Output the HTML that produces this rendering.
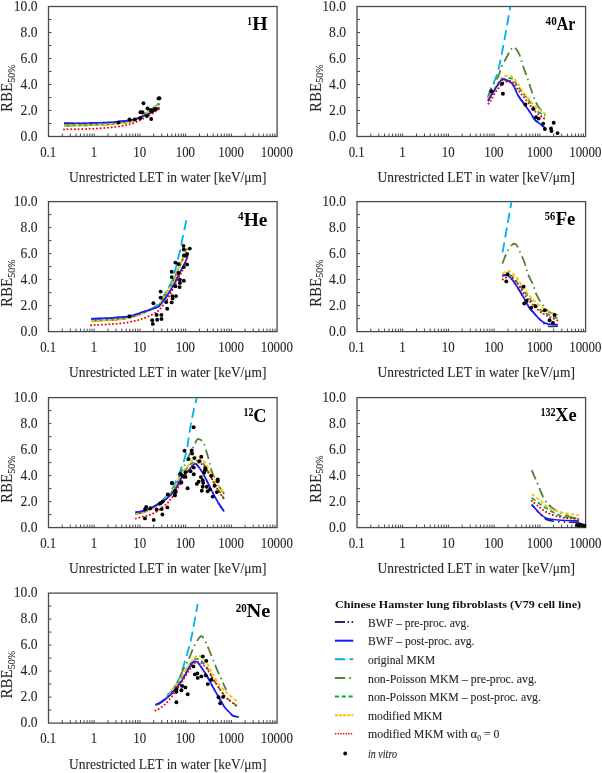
<!DOCTYPE html>
<html><head><meta charset="utf-8"><style>
html,body{margin:0;padding:0;background:#fff;}
svg{display:block;}
.tx{will-change:transform;}
text{font-family:"Liberation Serif", serif;fill:#262626;stroke:#262626;stroke-width:0.1px;}
.tl{font-size:14px;}
.at{font-size:14.6px;}
.yt{font-size:15.7px;}
.sub{font-size:10.6px;}
.el{font-size:17.8px;font-weight:bold;fill:#000;stroke:none;}
.es{font-size:12px;fill:#000;stroke:none;}
.lg{font-size:11.8px;}
.lt{font-size:10.8px;font-weight:bold;fill:#111;stroke:none;}
</style></head><body>
<svg style="will-change:transform" width="602" height="773" viewBox="0 0 602 773">
<rect x="48.50" y="6.50" width="228.60" height="130.00" fill="none" stroke="#4a4a4a" stroke-width="1.3"/>
<path d="M48.50 123.50h3 M48.50 110.50h3 M48.50 97.50h3 M48.50 84.50h3 M48.50 71.50h3 M48.50 58.50h3 M48.50 45.50h3 M48.50 32.50h3 M48.50 19.50h3 M62.26 136.50v-3 M70.31 136.50v-3 M76.03 136.50v-3 M80.46 136.50v-3 M84.08 136.50v-3 M87.14 136.50v-3 M89.79 136.50v-3 M92.13 136.50v-3 M94.22 136.50v-3 M107.98 136.50v-3 M116.03 136.50v-3 M121.75 136.50v-3 M126.18 136.50v-3 M129.80 136.50v-3 M132.86 136.50v-3 M135.51 136.50v-3 M137.85 136.50v-3 M139.94 136.50v-3 M153.70 136.50v-3 M161.75 136.50v-3 M167.47 136.50v-3 M171.90 136.50v-3 M175.52 136.50v-3 M178.58 136.50v-3 M181.23 136.50v-3 M183.57 136.50v-3 M185.66 136.50v-3 M199.42 136.50v-3 M207.47 136.50v-3 M213.19 136.50v-3 M217.62 136.50v-3 M221.24 136.50v-3 M224.30 136.50v-3 M226.95 136.50v-3 M229.29 136.50v-3 M231.38 136.50v-3 M245.14 136.50v-3 M253.19 136.50v-3 M258.91 136.50v-3 M263.34 136.50v-3 M266.96 136.50v-3 M270.02 136.50v-3 M272.67 136.50v-3 M275.01 136.50v-3" stroke="#4a4a4a" stroke-width="1" fill="none"/>
<text x="37.60" y="140.60" text-anchor="end" class="tl" textLength="16.98" lengthAdjust="spacingAndGlyphs">0.0</text>
<text x="37.60" y="114.60" text-anchor="end" class="tl" textLength="16.98" lengthAdjust="spacingAndGlyphs">2.0</text>
<text x="37.60" y="88.60" text-anchor="end" class="tl" textLength="16.98" lengthAdjust="spacingAndGlyphs">4.0</text>
<text x="37.60" y="62.60" text-anchor="end" class="tl" textLength="16.98" lengthAdjust="spacingAndGlyphs">6.0</text>
<text x="37.60" y="36.60" text-anchor="end" class="tl" textLength="16.98" lengthAdjust="spacingAndGlyphs">8.0</text>
<text x="37.60" y="10.60" text-anchor="end" class="tl" textLength="23.77" lengthAdjust="spacingAndGlyphs">10.0</text>
<text x="48.20" y="156.70" text-anchor="middle" class="tl" textLength="16.10" lengthAdjust="spacingAndGlyphs">0.1</text>
<text x="93.92" y="156.70" text-anchor="middle" class="tl" textLength="6.44" lengthAdjust="spacingAndGlyphs">1</text>
<text x="139.64" y="156.70" text-anchor="middle" class="tl" textLength="12.88" lengthAdjust="spacingAndGlyphs">10</text>
<text x="185.36" y="156.70" text-anchor="middle" class="tl" textLength="19.32" lengthAdjust="spacingAndGlyphs">100</text>
<text x="231.08" y="156.70" text-anchor="middle" class="tl" textLength="25.76" lengthAdjust="spacingAndGlyphs">1000</text>
<text x="276.80" y="156.70" text-anchor="middle" class="tl" textLength="32.20" lengthAdjust="spacingAndGlyphs">10000</text>
<text x="69.00" y="182.30" class="at" textLength="197.5" lengthAdjust="spacingAndGlyphs">Unrestricted LET in water [keV/μm]</text>
<text transform="translate(12.30,111.90) rotate(-90)" class="yt"><tspan textLength="29.2" lengthAdjust="spacingAndGlyphs">RBE</tspan><tspan dy="2.2" class="sub" textLength="18.3" lengthAdjust="spacingAndGlyphs">50%</tspan></text>
<rect x="357.00" y="6.50" width="228.60" height="130.00" fill="none" stroke="#4a4a4a" stroke-width="1.3"/>
<path d="M357.00 123.50h3 M357.00 110.50h3 M357.00 97.50h3 M357.00 84.50h3 M357.00 71.50h3 M357.00 58.50h3 M357.00 45.50h3 M357.00 32.50h3 M357.00 19.50h3 M370.76 136.50v-3 M378.81 136.50v-3 M384.53 136.50v-3 M388.96 136.50v-3 M392.58 136.50v-3 M395.64 136.50v-3 M398.29 136.50v-3 M400.63 136.50v-3 M402.72 136.50v-3 M416.48 136.50v-3 M424.53 136.50v-3 M430.25 136.50v-3 M434.68 136.50v-3 M438.30 136.50v-3 M441.36 136.50v-3 M444.01 136.50v-3 M446.35 136.50v-3 M448.44 136.50v-3 M462.20 136.50v-3 M470.25 136.50v-3 M475.97 136.50v-3 M480.40 136.50v-3 M484.02 136.50v-3 M487.08 136.50v-3 M489.73 136.50v-3 M492.07 136.50v-3 M494.16 136.50v-3 M507.92 136.50v-3 M515.97 136.50v-3 M521.69 136.50v-3 M526.12 136.50v-3 M529.74 136.50v-3 M532.80 136.50v-3 M535.45 136.50v-3 M537.79 136.50v-3 M539.88 136.50v-3 M553.64 136.50v-3 M561.69 136.50v-3 M567.41 136.50v-3 M571.84 136.50v-3 M575.46 136.50v-3 M578.52 136.50v-3 M581.17 136.50v-3 M583.51 136.50v-3" stroke="#4a4a4a" stroke-width="1" fill="none"/>
<text x="346.10" y="140.60" text-anchor="end" class="tl" textLength="16.98" lengthAdjust="spacingAndGlyphs">0.0</text>
<text x="346.10" y="114.60" text-anchor="end" class="tl" textLength="16.98" lengthAdjust="spacingAndGlyphs">2.0</text>
<text x="346.10" y="88.60" text-anchor="end" class="tl" textLength="16.98" lengthAdjust="spacingAndGlyphs">4.0</text>
<text x="346.10" y="62.60" text-anchor="end" class="tl" textLength="16.98" lengthAdjust="spacingAndGlyphs">6.0</text>
<text x="346.10" y="36.60" text-anchor="end" class="tl" textLength="16.98" lengthAdjust="spacingAndGlyphs">8.0</text>
<text x="346.10" y="10.60" text-anchor="end" class="tl" textLength="23.77" lengthAdjust="spacingAndGlyphs">10.0</text>
<text x="356.70" y="156.70" text-anchor="middle" class="tl" textLength="16.10" lengthAdjust="spacingAndGlyphs">0.1</text>
<text x="402.42" y="156.70" text-anchor="middle" class="tl" textLength="6.44" lengthAdjust="spacingAndGlyphs">1</text>
<text x="448.14" y="156.70" text-anchor="middle" class="tl" textLength="12.88" lengthAdjust="spacingAndGlyphs">10</text>
<text x="493.86" y="156.70" text-anchor="middle" class="tl" textLength="19.32" lengthAdjust="spacingAndGlyphs">100</text>
<text x="539.58" y="156.70" text-anchor="middle" class="tl" textLength="25.76" lengthAdjust="spacingAndGlyphs">1000</text>
<text x="585.30" y="156.70" text-anchor="middle" class="tl" textLength="32.20" lengthAdjust="spacingAndGlyphs">10000</text>
<text x="377.50" y="182.30" class="at" textLength="197.5" lengthAdjust="spacingAndGlyphs">Unrestricted LET in water [keV/μm]</text>
<text transform="translate(320.80,111.90) rotate(-90)" class="yt"><tspan textLength="29.2" lengthAdjust="spacingAndGlyphs">RBE</tspan><tspan dy="2.2" class="sub" textLength="18.3" lengthAdjust="spacingAndGlyphs">50%</tspan></text>
<rect x="48.50" y="201.60" width="228.60" height="130.00" fill="none" stroke="#4a4a4a" stroke-width="1.3"/>
<path d="M48.50 318.60h3 M48.50 305.60h3 M48.50 292.60h3 M48.50 279.60h3 M48.50 266.60h3 M48.50 253.60h3 M48.50 240.60h3 M48.50 227.60h3 M48.50 214.60h3 M62.26 331.60v-3 M70.31 331.60v-3 M76.03 331.60v-3 M80.46 331.60v-3 M84.08 331.60v-3 M87.14 331.60v-3 M89.79 331.60v-3 M92.13 331.60v-3 M94.22 331.60v-3 M107.98 331.60v-3 M116.03 331.60v-3 M121.75 331.60v-3 M126.18 331.60v-3 M129.80 331.60v-3 M132.86 331.60v-3 M135.51 331.60v-3 M137.85 331.60v-3 M139.94 331.60v-3 M153.70 331.60v-3 M161.75 331.60v-3 M167.47 331.60v-3 M171.90 331.60v-3 M175.52 331.60v-3 M178.58 331.60v-3 M181.23 331.60v-3 M183.57 331.60v-3 M185.66 331.60v-3 M199.42 331.60v-3 M207.47 331.60v-3 M213.19 331.60v-3 M217.62 331.60v-3 M221.24 331.60v-3 M224.30 331.60v-3 M226.95 331.60v-3 M229.29 331.60v-3 M231.38 331.60v-3 M245.14 331.60v-3 M253.19 331.60v-3 M258.91 331.60v-3 M263.34 331.60v-3 M266.96 331.60v-3 M270.02 331.60v-3 M272.67 331.60v-3 M275.01 331.60v-3" stroke="#4a4a4a" stroke-width="1" fill="none"/>
<text x="37.60" y="335.70" text-anchor="end" class="tl" textLength="16.98" lengthAdjust="spacingAndGlyphs">0.0</text>
<text x="37.60" y="309.70" text-anchor="end" class="tl" textLength="16.98" lengthAdjust="spacingAndGlyphs">2.0</text>
<text x="37.60" y="283.70" text-anchor="end" class="tl" textLength="16.98" lengthAdjust="spacingAndGlyphs">4.0</text>
<text x="37.60" y="257.70" text-anchor="end" class="tl" textLength="16.98" lengthAdjust="spacingAndGlyphs">6.0</text>
<text x="37.60" y="231.70" text-anchor="end" class="tl" textLength="16.98" lengthAdjust="spacingAndGlyphs">8.0</text>
<text x="37.60" y="205.70" text-anchor="end" class="tl" textLength="23.77" lengthAdjust="spacingAndGlyphs">10.0</text>
<text x="48.20" y="351.80" text-anchor="middle" class="tl" textLength="16.10" lengthAdjust="spacingAndGlyphs">0.1</text>
<text x="93.92" y="351.80" text-anchor="middle" class="tl" textLength="6.44" lengthAdjust="spacingAndGlyphs">1</text>
<text x="139.64" y="351.80" text-anchor="middle" class="tl" textLength="12.88" lengthAdjust="spacingAndGlyphs">10</text>
<text x="185.36" y="351.80" text-anchor="middle" class="tl" textLength="19.32" lengthAdjust="spacingAndGlyphs">100</text>
<text x="231.08" y="351.80" text-anchor="middle" class="tl" textLength="25.76" lengthAdjust="spacingAndGlyphs">1000</text>
<text x="276.80" y="351.80" text-anchor="middle" class="tl" textLength="32.20" lengthAdjust="spacingAndGlyphs">10000</text>
<text x="69.00" y="377.40" class="at" textLength="197.5" lengthAdjust="spacingAndGlyphs">Unrestricted LET in water [keV/μm]</text>
<text transform="translate(12.30,307.00) rotate(-90)" class="yt"><tspan textLength="29.2" lengthAdjust="spacingAndGlyphs">RBE</tspan><tspan dy="2.2" class="sub" textLength="18.3" lengthAdjust="spacingAndGlyphs">50%</tspan></text>
<rect x="357.00" y="201.60" width="228.60" height="130.00" fill="none" stroke="#4a4a4a" stroke-width="1.3"/>
<path d="M357.00 318.60h3 M357.00 305.60h3 M357.00 292.60h3 M357.00 279.60h3 M357.00 266.60h3 M357.00 253.60h3 M357.00 240.60h3 M357.00 227.60h3 M357.00 214.60h3 M370.76 331.60v-3 M378.81 331.60v-3 M384.53 331.60v-3 M388.96 331.60v-3 M392.58 331.60v-3 M395.64 331.60v-3 M398.29 331.60v-3 M400.63 331.60v-3 M402.72 331.60v-3 M416.48 331.60v-3 M424.53 331.60v-3 M430.25 331.60v-3 M434.68 331.60v-3 M438.30 331.60v-3 M441.36 331.60v-3 M444.01 331.60v-3 M446.35 331.60v-3 M448.44 331.60v-3 M462.20 331.60v-3 M470.25 331.60v-3 M475.97 331.60v-3 M480.40 331.60v-3 M484.02 331.60v-3 M487.08 331.60v-3 M489.73 331.60v-3 M492.07 331.60v-3 M494.16 331.60v-3 M507.92 331.60v-3 M515.97 331.60v-3 M521.69 331.60v-3 M526.12 331.60v-3 M529.74 331.60v-3 M532.80 331.60v-3 M535.45 331.60v-3 M537.79 331.60v-3 M539.88 331.60v-3 M553.64 331.60v-3 M561.69 331.60v-3 M567.41 331.60v-3 M571.84 331.60v-3 M575.46 331.60v-3 M578.52 331.60v-3 M581.17 331.60v-3 M583.51 331.60v-3" stroke="#4a4a4a" stroke-width="1" fill="none"/>
<text x="346.10" y="335.70" text-anchor="end" class="tl" textLength="16.98" lengthAdjust="spacingAndGlyphs">0.0</text>
<text x="346.10" y="309.70" text-anchor="end" class="tl" textLength="16.98" lengthAdjust="spacingAndGlyphs">2.0</text>
<text x="346.10" y="283.70" text-anchor="end" class="tl" textLength="16.98" lengthAdjust="spacingAndGlyphs">4.0</text>
<text x="346.10" y="257.70" text-anchor="end" class="tl" textLength="16.98" lengthAdjust="spacingAndGlyphs">6.0</text>
<text x="346.10" y="231.70" text-anchor="end" class="tl" textLength="16.98" lengthAdjust="spacingAndGlyphs">8.0</text>
<text x="346.10" y="205.70" text-anchor="end" class="tl" textLength="23.77" lengthAdjust="spacingAndGlyphs">10.0</text>
<text x="356.70" y="351.80" text-anchor="middle" class="tl" textLength="16.10" lengthAdjust="spacingAndGlyphs">0.1</text>
<text x="402.42" y="351.80" text-anchor="middle" class="tl" textLength="6.44" lengthAdjust="spacingAndGlyphs">1</text>
<text x="448.14" y="351.80" text-anchor="middle" class="tl" textLength="12.88" lengthAdjust="spacingAndGlyphs">10</text>
<text x="493.86" y="351.80" text-anchor="middle" class="tl" textLength="19.32" lengthAdjust="spacingAndGlyphs">100</text>
<text x="539.58" y="351.80" text-anchor="middle" class="tl" textLength="25.76" lengthAdjust="spacingAndGlyphs">1000</text>
<text x="585.30" y="351.80" text-anchor="middle" class="tl" textLength="32.20" lengthAdjust="spacingAndGlyphs">10000</text>
<text x="377.50" y="377.40" class="at" textLength="197.5" lengthAdjust="spacingAndGlyphs">Unrestricted LET in water [keV/μm]</text>
<text transform="translate(320.80,307.00) rotate(-90)" class="yt"><tspan textLength="29.2" lengthAdjust="spacingAndGlyphs">RBE</tspan><tspan dy="2.2" class="sub" textLength="18.3" lengthAdjust="spacingAndGlyphs">50%</tspan></text>
<rect x="48.50" y="397.60" width="228.60" height="130.00" fill="none" stroke="#4a4a4a" stroke-width="1.3"/>
<path d="M48.50 514.60h3 M48.50 501.60h3 M48.50 488.60h3 M48.50 475.60h3 M48.50 462.60h3 M48.50 449.60h3 M48.50 436.60h3 M48.50 423.60h3 M48.50 410.60h3 M62.26 527.60v-3 M70.31 527.60v-3 M76.03 527.60v-3 M80.46 527.60v-3 M84.08 527.60v-3 M87.14 527.60v-3 M89.79 527.60v-3 M92.13 527.60v-3 M94.22 527.60v-3 M107.98 527.60v-3 M116.03 527.60v-3 M121.75 527.60v-3 M126.18 527.60v-3 M129.80 527.60v-3 M132.86 527.60v-3 M135.51 527.60v-3 M137.85 527.60v-3 M139.94 527.60v-3 M153.70 527.60v-3 M161.75 527.60v-3 M167.47 527.60v-3 M171.90 527.60v-3 M175.52 527.60v-3 M178.58 527.60v-3 M181.23 527.60v-3 M183.57 527.60v-3 M185.66 527.60v-3 M199.42 527.60v-3 M207.47 527.60v-3 M213.19 527.60v-3 M217.62 527.60v-3 M221.24 527.60v-3 M224.30 527.60v-3 M226.95 527.60v-3 M229.29 527.60v-3 M231.38 527.60v-3 M245.14 527.60v-3 M253.19 527.60v-3 M258.91 527.60v-3 M263.34 527.60v-3 M266.96 527.60v-3 M270.02 527.60v-3 M272.67 527.60v-3 M275.01 527.60v-3" stroke="#4a4a4a" stroke-width="1" fill="none"/>
<text x="37.60" y="531.70" text-anchor="end" class="tl" textLength="16.98" lengthAdjust="spacingAndGlyphs">0.0</text>
<text x="37.60" y="505.70" text-anchor="end" class="tl" textLength="16.98" lengthAdjust="spacingAndGlyphs">2.0</text>
<text x="37.60" y="479.70" text-anchor="end" class="tl" textLength="16.98" lengthAdjust="spacingAndGlyphs">4.0</text>
<text x="37.60" y="453.70" text-anchor="end" class="tl" textLength="16.98" lengthAdjust="spacingAndGlyphs">6.0</text>
<text x="37.60" y="427.70" text-anchor="end" class="tl" textLength="16.98" lengthAdjust="spacingAndGlyphs">8.0</text>
<text x="37.60" y="401.70" text-anchor="end" class="tl" textLength="23.77" lengthAdjust="spacingAndGlyphs">10.0</text>
<text x="48.20" y="547.80" text-anchor="middle" class="tl" textLength="16.10" lengthAdjust="spacingAndGlyphs">0.1</text>
<text x="93.92" y="547.80" text-anchor="middle" class="tl" textLength="6.44" lengthAdjust="spacingAndGlyphs">1</text>
<text x="139.64" y="547.80" text-anchor="middle" class="tl" textLength="12.88" lengthAdjust="spacingAndGlyphs">10</text>
<text x="185.36" y="547.80" text-anchor="middle" class="tl" textLength="19.32" lengthAdjust="spacingAndGlyphs">100</text>
<text x="231.08" y="547.80" text-anchor="middle" class="tl" textLength="25.76" lengthAdjust="spacingAndGlyphs">1000</text>
<text x="276.80" y="547.80" text-anchor="middle" class="tl" textLength="32.20" lengthAdjust="spacingAndGlyphs">10000</text>
<text x="69.00" y="573.40" class="at" textLength="197.5" lengthAdjust="spacingAndGlyphs">Unrestricted LET in water [keV/μm]</text>
<text transform="translate(12.30,503.00) rotate(-90)" class="yt"><tspan textLength="29.2" lengthAdjust="spacingAndGlyphs">RBE</tspan><tspan dy="2.2" class="sub" textLength="18.3" lengthAdjust="spacingAndGlyphs">50%</tspan></text>
<rect x="357.00" y="397.60" width="228.60" height="130.00" fill="none" stroke="#4a4a4a" stroke-width="1.3"/>
<path d="M357.00 514.60h3 M357.00 501.60h3 M357.00 488.60h3 M357.00 475.60h3 M357.00 462.60h3 M357.00 449.60h3 M357.00 436.60h3 M357.00 423.60h3 M357.00 410.60h3 M370.76 527.60v-3 M378.81 527.60v-3 M384.53 527.60v-3 M388.96 527.60v-3 M392.58 527.60v-3 M395.64 527.60v-3 M398.29 527.60v-3 M400.63 527.60v-3 M402.72 527.60v-3 M416.48 527.60v-3 M424.53 527.60v-3 M430.25 527.60v-3 M434.68 527.60v-3 M438.30 527.60v-3 M441.36 527.60v-3 M444.01 527.60v-3 M446.35 527.60v-3 M448.44 527.60v-3 M462.20 527.60v-3 M470.25 527.60v-3 M475.97 527.60v-3 M480.40 527.60v-3 M484.02 527.60v-3 M487.08 527.60v-3 M489.73 527.60v-3 M492.07 527.60v-3 M494.16 527.60v-3 M507.92 527.60v-3 M515.97 527.60v-3 M521.69 527.60v-3 M526.12 527.60v-3 M529.74 527.60v-3 M532.80 527.60v-3 M535.45 527.60v-3 M537.79 527.60v-3 M539.88 527.60v-3 M553.64 527.60v-3 M561.69 527.60v-3 M567.41 527.60v-3 M571.84 527.60v-3 M575.46 527.60v-3 M578.52 527.60v-3 M581.17 527.60v-3 M583.51 527.60v-3" stroke="#4a4a4a" stroke-width="1" fill="none"/>
<text x="346.10" y="531.70" text-anchor="end" class="tl" textLength="16.98" lengthAdjust="spacingAndGlyphs">0.0</text>
<text x="346.10" y="505.70" text-anchor="end" class="tl" textLength="16.98" lengthAdjust="spacingAndGlyphs">2.0</text>
<text x="346.10" y="479.70" text-anchor="end" class="tl" textLength="16.98" lengthAdjust="spacingAndGlyphs">4.0</text>
<text x="346.10" y="453.70" text-anchor="end" class="tl" textLength="16.98" lengthAdjust="spacingAndGlyphs">6.0</text>
<text x="346.10" y="427.70" text-anchor="end" class="tl" textLength="16.98" lengthAdjust="spacingAndGlyphs">8.0</text>
<text x="346.10" y="401.70" text-anchor="end" class="tl" textLength="23.77" lengthAdjust="spacingAndGlyphs">10.0</text>
<text x="356.70" y="547.80" text-anchor="middle" class="tl" textLength="16.10" lengthAdjust="spacingAndGlyphs">0.1</text>
<text x="402.42" y="547.80" text-anchor="middle" class="tl" textLength="6.44" lengthAdjust="spacingAndGlyphs">1</text>
<text x="448.14" y="547.80" text-anchor="middle" class="tl" textLength="12.88" lengthAdjust="spacingAndGlyphs">10</text>
<text x="493.86" y="547.80" text-anchor="middle" class="tl" textLength="19.32" lengthAdjust="spacingAndGlyphs">100</text>
<text x="539.58" y="547.80" text-anchor="middle" class="tl" textLength="25.76" lengthAdjust="spacingAndGlyphs">1000</text>
<text x="585.30" y="547.80" text-anchor="middle" class="tl" textLength="32.20" lengthAdjust="spacingAndGlyphs">10000</text>
<text x="377.50" y="573.40" class="at" textLength="197.5" lengthAdjust="spacingAndGlyphs">Unrestricted LET in water [keV/μm]</text>
<text transform="translate(320.80,503.00) rotate(-90)" class="yt"><tspan textLength="29.2" lengthAdjust="spacingAndGlyphs">RBE</tspan><tspan dy="2.2" class="sub" textLength="18.3" lengthAdjust="spacingAndGlyphs">50%</tspan></text>
<rect x="48.50" y="593.10" width="228.60" height="130.00" fill="none" stroke="#4a4a4a" stroke-width="1.3"/>
<path d="M48.50 710.10h3 M48.50 697.10h3 M48.50 684.10h3 M48.50 671.10h3 M48.50 658.10h3 M48.50 645.10h3 M48.50 632.10h3 M48.50 619.10h3 M48.50 606.10h3 M62.26 723.10v-3 M70.31 723.10v-3 M76.03 723.10v-3 M80.46 723.10v-3 M84.08 723.10v-3 M87.14 723.10v-3 M89.79 723.10v-3 M92.13 723.10v-3 M94.22 723.10v-3 M107.98 723.10v-3 M116.03 723.10v-3 M121.75 723.10v-3 M126.18 723.10v-3 M129.80 723.10v-3 M132.86 723.10v-3 M135.51 723.10v-3 M137.85 723.10v-3 M139.94 723.10v-3 M153.70 723.10v-3 M161.75 723.10v-3 M167.47 723.10v-3 M171.90 723.10v-3 M175.52 723.10v-3 M178.58 723.10v-3 M181.23 723.10v-3 M183.57 723.10v-3 M185.66 723.10v-3 M199.42 723.10v-3 M207.47 723.10v-3 M213.19 723.10v-3 M217.62 723.10v-3 M221.24 723.10v-3 M224.30 723.10v-3 M226.95 723.10v-3 M229.29 723.10v-3 M231.38 723.10v-3 M245.14 723.10v-3 M253.19 723.10v-3 M258.91 723.10v-3 M263.34 723.10v-3 M266.96 723.10v-3 M270.02 723.10v-3 M272.67 723.10v-3 M275.01 723.10v-3" stroke="#4a4a4a" stroke-width="1" fill="none"/>
<text x="37.60" y="727.20" text-anchor="end" class="tl" textLength="16.98" lengthAdjust="spacingAndGlyphs">0.0</text>
<text x="37.60" y="701.20" text-anchor="end" class="tl" textLength="16.98" lengthAdjust="spacingAndGlyphs">2.0</text>
<text x="37.60" y="675.20" text-anchor="end" class="tl" textLength="16.98" lengthAdjust="spacingAndGlyphs">4.0</text>
<text x="37.60" y="649.20" text-anchor="end" class="tl" textLength="16.98" lengthAdjust="spacingAndGlyphs">6.0</text>
<text x="37.60" y="623.20" text-anchor="end" class="tl" textLength="16.98" lengthAdjust="spacingAndGlyphs">8.0</text>
<text x="37.60" y="597.20" text-anchor="end" class="tl" textLength="23.77" lengthAdjust="spacingAndGlyphs">10.0</text>
<text x="48.20" y="743.30" text-anchor="middle" class="tl" textLength="16.10" lengthAdjust="spacingAndGlyphs">0.1</text>
<text x="93.92" y="743.30" text-anchor="middle" class="tl" textLength="6.44" lengthAdjust="spacingAndGlyphs">1</text>
<text x="139.64" y="743.30" text-anchor="middle" class="tl" textLength="12.88" lengthAdjust="spacingAndGlyphs">10</text>
<text x="185.36" y="743.30" text-anchor="middle" class="tl" textLength="19.32" lengthAdjust="spacingAndGlyphs">100</text>
<text x="231.08" y="743.30" text-anchor="middle" class="tl" textLength="25.76" lengthAdjust="spacingAndGlyphs">1000</text>
<text x="276.80" y="743.30" text-anchor="middle" class="tl" textLength="32.20" lengthAdjust="spacingAndGlyphs">10000</text>
<text x="69.00" y="768.90" class="at" textLength="197.5" lengthAdjust="spacingAndGlyphs">Unrestricted LET in water [keV/μm]</text>
<text transform="translate(12.30,698.50) rotate(-90)" class="yt"><tspan textLength="29.2" lengthAdjust="spacingAndGlyphs">RBE</tspan><tspan dy="2.2" class="sub" textLength="18.3" lengthAdjust="spacingAndGlyphs">50%</tspan></text>
<defs>
<clipPath id="cpH"><rect x="48.50" y="6.50" width="228.60" height="130.00"/></clipPath>
<clipPath id="cpAr"><rect x="357.00" y="6.50" width="228.60" height="130.00"/></clipPath>
<clipPath id="cpHe"><rect x="48.50" y="201.60" width="228.60" height="130.00"/></clipPath>
<clipPath id="cpFe"><rect x="357.00" y="201.60" width="228.60" height="130.00"/></clipPath>
<clipPath id="cpC"><rect x="48.50" y="397.60" width="228.60" height="130.00"/></clipPath>
<clipPath id="cpXe"><rect x="357.00" y="397.60" width="228.60" height="130.00"/></clipPath>
<clipPath id="cpNe"><rect x="48.50" y="593.10" width="228.60" height="130.00"/></clipPath>
</defs>
<g clip-path="url(#cpH)" fill="none">
<path d="M64.00 123.30C68.33 123.25 81.53 123.22 90.00 123.00C98.47 122.78 107.63 122.55 114.80 122.00C121.97 121.45 127.80 120.87 133.00 119.70C138.20 118.53 142.67 116.37 146.00 115.00C149.33 113.63 150.73 112.77 153.00 111.50C155.27 110.23 158.50 108.08 159.60 107.40" stroke="#1f2d6e" stroke-width="1.6" stroke-dasharray="10 4 1.5 4 1.5 4"/>
<path d="M64.00 125.50C68.33 125.42 81.53 125.33 90.00 125.00C98.47 124.67 107.63 124.20 114.80 123.50C121.97 122.80 127.80 122.50 133.00 120.80C138.20 119.10 142.67 115.38 146.00 113.30C149.33 111.22 150.73 110.05 153.00 108.30C155.27 106.55 158.50 103.72 159.60 102.80" stroke="#00b0f0" stroke-width="1.8" stroke-dasharray="10 5"/>
<path d="M64.00 125.60C68.33 125.52 81.53 125.43 90.00 125.10C98.47 124.77 107.63 124.30 114.80 123.60C121.97 122.90 127.80 122.57 133.00 120.90C138.20 119.23 142.67 115.65 146.00 113.60C149.33 111.55 150.73 110.28 153.00 108.60C155.27 106.92 158.50 104.35 159.60 103.50" stroke="#548235" stroke-width="1.8" stroke-dasharray="10 4 1.5 4"/>
<path d="M64.00 125.40C68.33 125.32 81.53 125.23 90.00 124.90C98.47 124.57 107.63 124.10 114.80 123.40C121.97 122.70 127.80 122.30 133.00 120.70C138.20 119.10 142.67 115.75 146.00 113.80C149.33 111.85 150.73 110.63 153.00 109.00C155.27 107.37 158.50 104.83 159.60 104.00" stroke="#00b050" stroke-width="1.8" stroke-dasharray="4.6 3"/>
<path d="M64.00 125.70C68.33 125.62 81.53 125.53 90.00 125.20C98.47 124.87 107.63 124.40 114.80 123.70C121.97 123.00 127.80 122.70 133.00 121.00C138.20 119.30 142.67 115.58 146.00 113.50C149.33 111.42 150.73 110.22 153.00 108.50C155.27 106.78 158.50 104.08 159.60 103.20" stroke="#ffc000" stroke-width="1.8" stroke-dasharray="3.6 2"/>
<path d="M64.00 123.30C68.33 123.25 81.53 123.22 90.00 123.00C98.47 122.78 107.63 122.55 114.80 122.00C121.97 121.45 127.80 120.87 133.00 119.70C138.20 118.53 142.67 116.37 146.00 115.00C149.33 113.63 150.73 112.77 153.00 111.50C155.27 110.23 158.50 108.08 159.60 107.40" stroke="#1a1aff" stroke-width="1.7"/>
<path d="M64.00 129.40C68.33 129.30 81.53 129.20 90.00 128.80C98.47 128.40 107.63 127.92 114.80 127.00C121.97 126.08 127.80 124.97 133.00 123.30C138.20 121.63 142.67 118.72 146.00 117.00C149.33 115.28 150.73 114.38 153.00 113.00C155.27 111.62 158.50 109.42 159.60 108.70" stroke="#ff0000" stroke-width="2" stroke-dasharray="0.01 3.65" stroke-linecap="round"/>
</g>
<g fill="#000">
<circle cx="118.50" cy="122.50" r="1.95"/>
<circle cx="129.50" cy="119.50" r="1.95"/>
<circle cx="134.80" cy="119.50" r="1.95"/>
<circle cx="140.30" cy="118.20" r="1.95"/>
<circle cx="143.50" cy="103.30" r="1.95"/>
<circle cx="140.50" cy="112.30" r="1.95"/>
<circle cx="142.50" cy="112.30" r="1.95"/>
<circle cx="147.50" cy="108.50" r="1.95"/>
<circle cx="151.20" cy="119.00" r="1.95"/>
<circle cx="147.00" cy="116.00" r="1.95"/>
<circle cx="150.50" cy="110.00" r="1.95"/>
<circle cx="152.00" cy="111.50" r="1.95"/>
<circle cx="154.00" cy="109.50" r="1.95"/>
<circle cx="156.00" cy="109.00" r="1.95"/>
<circle cx="159.50" cy="98.30" r="1.95"/>
<circle cx="158.50" cy="98.50" r="1.95"/>
</g>
<g clip-path="url(#cpAr)" fill="none">
<path d="M488.00 101.20C488.63 100.05 490.13 97.08 491.80 94.30C493.47 91.52 496.23 87.02 498.00 84.50C499.77 81.98 500.85 79.85 502.40 79.20C503.95 78.55 505.78 79.97 507.30 80.60C508.82 81.23 510.38 82.02 511.50 83.00C512.62 83.98 513.02 84.65 514.00 86.50C514.98 88.35 516.27 91.93 517.40 94.10C518.53 96.27 519.55 97.70 520.80 99.50C522.05 101.30 523.25 102.62 524.90 104.90C526.55 107.18 529.10 110.78 530.70 113.20C532.30 115.62 533.38 117.95 534.50 119.40C535.62 120.85 535.67 120.52 537.40 121.90C539.13 123.28 543.65 126.73 544.90 127.70" stroke="#1f2d6e" stroke-width="1.6" stroke-dasharray="10 4 1.5 4 1.5 4"/>
<path d="M488.00 97.50C488.67 95.75 490.38 91.22 492.00 87.00C493.62 82.78 495.82 79.03 497.70 72.20C499.58 65.37 501.20 56.95 503.30 46.00C505.40 35.05 509.13 13.08 510.30 6.50" stroke="#00b0f0" stroke-width="1.8" stroke-dasharray="10 5"/>
<path d="M488.00 97.00C488.63 95.35 490.13 90.40 491.80 87.10C493.47 83.80 496.37 80.62 498.00 77.20C499.63 73.78 500.17 69.92 501.60 66.60C503.03 63.28 505.20 59.90 506.60 57.30C508.00 54.70 508.90 52.67 510.00 51.00C511.10 49.33 512.28 47.77 513.20 47.30C514.12 46.83 514.43 46.92 515.50 48.20C516.57 49.48 518.35 52.03 519.60 55.00C520.85 57.97 521.83 62.52 523.00 66.00C524.17 69.48 525.43 72.57 526.60 75.90C527.77 79.23 528.83 82.55 530.00 86.00C531.17 89.45 532.23 93.18 533.60 96.60C534.97 100.02 536.25 103.45 538.20 106.50C540.15 109.55 544.12 113.50 545.30 114.90" stroke="#548235" stroke-width="1.8" stroke-dasharray="10 4 1.5 4"/>
<path d="M488.00 99.20C488.50 98.58 489.67 97.37 491.00 95.50C492.33 93.63 494.50 90.25 496.00 88.00C497.50 85.75 498.75 83.42 500.00 82.00C501.25 80.58 502.20 80.10 503.50 79.50C504.80 78.90 506.35 78.52 507.80 78.40C509.25 78.28 510.73 77.78 512.20 78.80C513.67 79.82 514.90 82.23 516.60 84.50C518.30 86.77 520.32 89.70 522.40 92.40C524.48 95.10 526.88 97.78 529.10 100.70C531.32 103.62 533.00 107.35 535.70 109.90C538.40 112.45 543.70 114.98 545.30 116.00" stroke="#00b050" stroke-width="1.8" stroke-dasharray="4.6 3"/>
<path d="M487.80 98.20C488.20 97.72 488.85 97.33 490.20 95.30C491.55 93.27 494.35 88.50 495.90 86.00C497.45 83.50 498.38 81.85 499.50 80.30C500.62 78.75 501.22 77.48 502.60 76.70C503.98 75.92 506.25 75.63 507.80 75.60C509.35 75.57 510.43 75.50 511.90 76.50C513.37 77.50 515.12 79.63 516.60 81.60C518.08 83.57 519.00 85.67 520.80 88.30C522.60 90.93 525.05 94.50 527.40 97.40C529.75 100.30 531.92 102.93 534.90 105.70C537.88 108.47 543.57 112.62 545.30 114.00" stroke="#ffc000" stroke-width="1.8" stroke-dasharray="3.6 2"/>
<path d="M488.00 101.20C488.63 100.05 490.13 97.08 491.80 94.30C493.47 91.52 496.23 87.02 498.00 84.50C499.77 81.98 500.85 79.85 502.40 79.20C503.95 78.55 505.78 79.97 507.30 80.60C508.82 81.23 510.38 82.02 511.50 83.00C512.62 83.98 513.02 84.65 514.00 86.50C514.98 88.35 516.27 91.93 517.40 94.10C518.53 96.27 519.55 97.70 520.80 99.50C522.05 101.30 523.25 102.62 524.90 104.90C526.55 107.18 529.10 110.78 530.70 113.20C532.30 115.62 533.38 117.95 534.50 119.40C535.62 120.85 535.67 120.52 537.40 121.90C539.13 123.28 543.65 126.73 544.90 127.70" stroke="#1a1aff" stroke-width="1.7"/>
<path d="M488.50 103.60C488.95 103.00 490.18 101.68 491.20 100.00C492.22 98.32 493.30 95.57 494.60 93.50C495.90 91.43 497.53 89.45 499.00 87.60C500.47 85.75 502.05 83.40 503.40 82.40C504.75 81.40 505.87 81.87 507.10 81.60C508.33 81.33 509.70 80.52 510.80 80.80C511.90 81.08 512.52 81.85 513.70 83.30C514.88 84.75 516.52 87.57 517.90 89.50C519.28 91.43 520.48 92.97 522.00 94.90C523.52 96.83 525.48 99.17 527.00 101.10C528.52 103.03 529.58 104.62 531.10 106.50C532.62 108.38 534.30 110.67 536.10 112.40C537.90 114.13 540.42 115.80 541.90 116.90C543.38 118.00 544.48 118.65 545.00 119.00" stroke="#ff0000" stroke-width="2" stroke-dasharray="0.01 3.65" stroke-linecap="round"/>
</g>
<g fill="#000">
<circle cx="491.30" cy="91.20" r="1.95"/>
<circle cx="502.10" cy="83.70" r="1.95"/>
<circle cx="502.90" cy="93.70" r="1.95"/>
<circle cx="525.30" cy="104.50" r="1.95"/>
<circle cx="533.20" cy="109.00" r="1.95"/>
<circle cx="536.10" cy="117.30" r="1.95"/>
<circle cx="538.60" cy="118.60" r="1.95"/>
<circle cx="543.20" cy="123.60" r="1.95"/>
<circle cx="544.90" cy="129.00" r="1.95"/>
<circle cx="553.70" cy="122.70" r="1.95"/>
<circle cx="551.00" cy="128.40" r="1.95"/>
<circle cx="551.50" cy="131.10" r="1.95"/>
<circle cx="557.50" cy="133.10" r="1.95"/>
</g>
<g clip-path="url(#cpHe)" fill="none">
<path d="M91.00 318.90C94.43 318.73 105.28 318.33 111.60 317.90C117.92 317.47 123.82 317.23 128.90 316.30C133.98 315.37 137.83 313.63 142.10 312.30C146.37 310.97 151.63 309.35 154.50 308.30C157.37 307.25 157.80 307.30 159.30 306.00C160.80 304.70 162.08 302.37 163.50 300.50C164.92 298.63 166.37 296.93 167.80 294.80C169.23 292.67 170.68 290.18 172.10 287.70C173.52 285.22 174.88 282.63 176.30 279.90C177.72 277.17 179.17 274.15 180.60 271.30C182.03 268.45 183.82 265.08 184.90 262.80C185.98 260.52 186.73 258.47 187.10 257.60" stroke="#1f2d6e" stroke-width="1.6" stroke-dasharray="10 4 1.5 4 1.5 4"/>
<path d="M91.00 320.50C94.43 320.35 105.28 320.10 111.60 319.60C117.92 319.10 123.82 318.57 128.90 317.50C133.98 316.43 137.90 314.92 142.10 313.20C146.30 311.48 151.12 309.08 154.10 307.20C157.08 305.32 158.18 304.15 160.00 301.90C161.82 299.65 163.65 295.95 165.00 293.70C166.35 291.45 166.92 290.53 168.10 288.40C169.28 286.27 171.08 283.38 172.10 280.90C173.12 278.42 173.43 276.15 174.20 273.50C174.97 270.85 176.05 267.55 176.70 265.00C177.35 262.45 177.42 261.02 178.10 258.20C178.78 255.38 180.13 251.13 180.80 248.10C181.47 245.07 181.00 245.43 182.10 240.00C183.20 234.57 186.52 219.58 187.40 215.50" stroke="#00b0f0" stroke-width="1.8" stroke-dasharray="10 5"/>
<path d="M91.00 320.80C94.43 320.65 105.28 320.40 111.60 319.90C117.92 319.40 123.82 318.87 128.90 317.80C133.98 316.73 137.75 315.22 142.10 313.50C146.45 311.78 152.13 308.98 155.00 307.50C157.87 306.02 157.88 306.28 159.30 304.60C160.72 302.92 162.08 299.67 163.50 297.40C164.92 295.13 166.37 293.35 167.80 291.00C169.23 288.65 170.68 286.17 172.10 283.30C173.52 280.43 175.12 276.47 176.30 273.80C177.48 271.13 178.13 269.72 179.20 267.30C180.27 264.88 181.38 262.40 182.70 259.30C184.02 256.20 186.37 250.47 187.10 248.70" stroke="#548235" stroke-width="1.8" stroke-dasharray="10 4 1.5 4"/>
<path d="M91.00 320.70C94.43 320.55 105.28 320.30 111.60 319.80C117.92 319.30 123.82 318.77 128.90 317.70C133.98 316.63 137.75 315.12 142.10 313.40C146.45 311.68 152.13 308.88 155.00 307.40C157.87 305.92 157.88 306.18 159.30 304.50C160.72 302.82 162.08 299.57 163.50 297.30C164.92 295.03 166.37 293.25 167.80 290.90C169.23 288.55 170.68 286.07 172.10 283.20C173.52 280.33 175.12 276.37 176.30 273.70C177.48 271.03 178.13 269.62 179.20 267.20C180.27 264.78 181.38 262.32 182.70 259.20C184.02 256.08 186.37 250.28 187.10 248.50" stroke="#00b050" stroke-width="1.8" stroke-dasharray="4.6 3"/>
<path d="M91.00 320.90C94.43 320.75 105.28 320.50 111.60 320.00C117.92 319.50 123.82 318.97 128.90 317.90C133.98 316.83 137.75 315.32 142.10 313.60C146.45 311.88 152.13 309.07 155.00 307.60C157.87 306.13 157.88 306.47 159.30 304.80C160.72 303.13 162.08 299.87 163.50 297.60C164.92 295.33 166.37 293.55 167.80 291.20C169.23 288.85 170.68 286.37 172.10 283.50C173.52 280.63 175.12 276.67 176.30 274.00C177.48 271.33 178.13 269.92 179.20 267.50C180.27 265.08 181.38 262.58 182.70 259.50C184.02 256.42 186.37 250.75 187.10 249.00" stroke="#ffc000" stroke-width="1.8" stroke-dasharray="3.6 2"/>
<path d="M91.00 318.90C94.43 318.73 105.28 318.33 111.60 317.90C117.92 317.47 123.82 317.23 128.90 316.30C133.98 315.37 137.83 313.63 142.10 312.30C146.37 310.97 151.63 309.35 154.50 308.30C157.37 307.25 157.80 307.30 159.30 306.00C160.80 304.70 162.08 302.37 163.50 300.50C164.92 298.63 166.37 296.93 167.80 294.80C169.23 292.67 170.68 290.18 172.10 287.70C173.52 285.22 174.88 282.63 176.30 279.90C177.72 277.17 179.17 274.15 180.60 271.30C182.03 268.45 183.82 265.08 184.90 262.80C185.98 260.52 186.73 258.47 187.10 257.60" stroke="#1a1aff" stroke-width="1.7"/>
<path d="M91.00 325.20C94.43 325.03 105.28 324.70 111.60 324.20C117.92 323.70 123.82 323.08 128.90 322.20C133.98 321.32 137.90 320.33 142.10 318.90C146.30 317.47 151.00 315.37 154.10 313.60C157.20 311.83 158.65 310.48 160.70 308.30C162.75 306.12 164.75 302.98 166.40 300.50C168.05 298.02 169.18 296.00 170.60 293.40C172.02 290.80 173.47 287.75 174.90 284.90C176.33 282.05 177.78 279.03 179.20 276.30C180.62 273.57 182.02 271.80 183.40 268.50C184.78 265.20 186.82 258.50 187.50 256.50" stroke="#ff0000" stroke-width="2" stroke-dasharray="0.01 3.65" stroke-linecap="round"/>
</g>
<g fill="#000">
<circle cx="129.50" cy="316.30" r="1.95"/>
<circle cx="153.40" cy="303.20" r="1.95"/>
<circle cx="160.60" cy="291.60" r="1.95"/>
<circle cx="160.60" cy="297.60" r="1.95"/>
<circle cx="156.60" cy="314.90" r="1.95"/>
<circle cx="161.40" cy="314.90" r="1.95"/>
<circle cx="157.20" cy="319.70" r="1.95"/>
<circle cx="161.50" cy="319.00" r="1.95"/>
<circle cx="152.20" cy="320.30" r="1.95"/>
<circle cx="152.80" cy="323.90" r="1.95"/>
<circle cx="166.30" cy="302.00" r="1.95"/>
<circle cx="167.20" cy="308.80" r="1.95"/>
<circle cx="171.70" cy="302.40" r="1.95"/>
<circle cx="172.40" cy="296.10" r="1.95"/>
<circle cx="176.00" cy="296.10" r="1.95"/>
<circle cx="172.60" cy="298.40" r="1.95"/>
<circle cx="175.40" cy="286.30" r="1.95"/>
<circle cx="179.60" cy="287.10" r="1.95"/>
<circle cx="179.90" cy="283.00" r="1.95"/>
<circle cx="179.90" cy="279.80" r="1.95"/>
<circle cx="183.80" cy="280.70" r="1.95"/>
<circle cx="171.70" cy="277.10" r="1.95"/>
<circle cx="178.50" cy="273.00" r="1.95"/>
<circle cx="171.70" cy="271.70" r="1.95"/>
<circle cx="175.40" cy="262.60" r="1.95"/>
<circle cx="178.50" cy="264.00" r="1.95"/>
<circle cx="183.80" cy="267.10" r="1.95"/>
<circle cx="187.10" cy="264.40" r="1.95"/>
<circle cx="184.00" cy="255.40" r="1.95"/>
<circle cx="187.10" cy="254.00" r="1.95"/>
<circle cx="186.20" cy="255.80" r="1.95"/>
<circle cx="183.50" cy="245.90" r="1.95"/>
<circle cx="183.80" cy="249.50" r="1.95"/>
<circle cx="189.80" cy="248.60" r="1.95"/>
</g>
<g clip-path="url(#cpFe)" fill="none">
<path d="M557.90 326.20C556.23 326.20 550.55 326.98 547.90 326.20C545.25 325.42 543.82 323.12 542.00 321.50C540.18 319.88 538.57 318.17 537.00 316.50C535.43 314.83 533.90 312.95 532.60 311.50C531.30 310.05 530.53 309.85 529.20 307.80C527.87 305.75 526.15 301.97 524.60 299.20C523.05 296.43 521.45 293.75 519.90 291.20C518.35 288.65 516.73 286.00 515.30 283.90C513.87 281.80 512.63 280.03 511.30 278.60C509.97 277.17 508.80 275.80 507.30 275.30C505.80 274.80 503.13 275.55 502.30 275.60" stroke="#1f2d6e" stroke-width="1.6" stroke-dasharray="10 4 1.5 4 1.5 4"/>
<path d="M502.60 252.30L511.50 201.60" stroke="#00b0f0" stroke-width="1.8" stroke-dasharray="10 5"/>
<path d="M502.40 263.70C503.17 261.75 505.35 255.18 507.00 252.00C508.65 248.82 510.82 245.88 512.30 244.60C513.78 243.32 514.87 243.62 515.90 244.30C516.93 244.98 517.05 245.63 518.50 248.70C519.95 251.77 522.98 258.38 524.60 262.70C526.22 267.02 526.82 271.00 528.20 274.60C529.58 278.20 531.52 280.97 532.90 284.30C534.28 287.63 534.93 291.27 536.50 294.60C538.07 297.93 540.17 301.42 542.30 304.30C544.43 307.18 546.70 310.08 549.30 311.90C551.90 313.72 556.47 314.65 557.90 315.20" stroke="#548235" stroke-width="1.8" stroke-dasharray="10 4 1.5 4"/>
<path d="M502.50 276.00C503.30 275.77 505.62 274.50 507.30 274.60C508.98 274.70 510.83 275.15 512.60 276.60C514.37 278.05 515.90 280.75 517.90 283.30C519.90 285.85 522.38 289.03 524.60 291.90C526.82 294.77 529.10 297.92 531.20 300.50C533.30 303.08 534.73 305.27 537.20 307.40C539.67 309.53 542.55 311.43 546.00 313.30C549.45 315.17 555.92 317.72 557.90 318.60" stroke="#00b050" stroke-width="1.8" stroke-dasharray="4.6 3"/>
<path d="M502.50 273.60C503.08 273.27 504.75 271.98 506.00 271.60C507.25 271.22 508.57 270.68 510.00 271.30C511.43 271.92 513.05 273.63 514.60 275.30C516.15 276.97 517.87 279.32 519.30 281.30C520.73 283.28 521.77 285.10 523.20 287.20C524.63 289.30 526.33 291.90 527.90 293.90C529.47 295.90 531.05 297.62 532.60 299.20C534.15 300.78 535.42 301.83 537.20 303.40C538.98 304.97 541.18 307.12 543.30 308.60C545.42 310.08 547.47 311.20 549.90 312.30C552.33 313.40 556.57 314.72 557.90 315.20" stroke="#ffc000" stroke-width="1.8" stroke-dasharray="3.6 2"/>
<path d="M502.30 275.60C503.13 275.55 505.80 274.80 507.30 275.30C508.80 275.80 509.97 277.17 511.30 278.60C512.63 280.03 513.87 281.80 515.30 283.90C516.73 286.00 518.35 288.65 519.90 291.20C521.45 293.75 523.05 296.43 524.60 299.20C526.15 301.97 527.87 305.75 529.20 307.80C530.53 309.85 531.30 310.05 532.60 311.50C533.90 312.95 535.43 314.88 537.00 316.50C538.57 318.12 540.28 319.97 542.00 321.20C543.72 322.43 544.65 323.32 547.30 323.90C549.95 324.48 556.13 324.57 557.90 324.70" stroke="#1a1aff" stroke-width="1.7"/>
<path d="M502.80 279.40C503.38 279.07 505.10 277.80 506.30 277.40C507.50 277.00 508.88 276.80 510.00 277.00C511.12 277.20 511.68 277.38 513.00 278.60C514.32 279.82 516.42 282.37 517.90 284.30C519.38 286.23 520.57 288.15 521.90 290.20C523.23 292.25 524.45 294.60 525.90 296.60C527.35 298.60 529.05 300.43 530.60 302.20C532.15 303.97 533.63 305.65 535.20 307.20C536.77 308.75 538.20 310.17 540.00 311.50C541.80 312.83 543.02 313.68 546.00 315.20C548.98 316.72 555.92 319.70 557.90 320.60" stroke="#ff0000" stroke-width="2" stroke-dasharray="0.01 3.65" stroke-linecap="round"/>
</g>
<g fill="#000">
<circle cx="507.60" cy="274.30" r="1.95"/>
<circle cx="506.30" cy="281.40" r="1.95"/>
<circle cx="523.60" cy="286.60" r="1.95"/>
<circle cx="526.60" cy="300.90" r="1.95"/>
<circle cx="524.20" cy="303.50" r="1.95"/>
<circle cx="531.20" cy="307.80" r="1.95"/>
<circle cx="535.50" cy="306.20" r="1.95"/>
<circle cx="544.80" cy="310.30" r="1.95"/>
<circle cx="554.70" cy="314.90" r="1.95"/>
<circle cx="549.60" cy="320.20" r="1.95"/>
<circle cx="552.90" cy="322.90" r="1.95"/>
</g>
<g clip-path="url(#cpC)" fill="none">
<path d="M135.40 512.40C136.72 512.18 140.73 511.80 143.30 511.10C145.87 510.40 148.32 509.37 150.80 508.20C153.28 507.03 155.85 505.48 158.20 504.10C160.55 502.72 162.90 501.33 164.90 499.90C166.90 498.47 168.53 497.15 170.20 495.50C171.87 493.85 173.70 491.62 174.90 490.00C176.10 488.38 176.33 487.78 177.40 485.80C178.47 483.82 180.00 480.03 181.30 478.10C182.60 476.17 183.65 475.88 185.20 474.20C186.75 472.52 188.92 469.75 190.60 468.00C192.28 466.25 193.82 463.68 195.30 463.70C196.78 463.72 198.03 466.17 199.50 468.10C200.97 470.03 202.73 472.88 204.10 475.30C205.47 477.72 206.50 480.18 207.70 482.60C208.90 485.02 209.87 487.00 211.30 489.80C212.73 492.60 214.85 496.78 216.30 499.40C217.75 502.02 218.68 503.47 220.00 505.50C221.32 507.53 223.50 510.58 224.20 511.60" stroke="#1f2d6e" stroke-width="1.6" stroke-dasharray="10 4 1.5 4 1.5 4"/>
<path d="M135.40 513.80C136.72 513.50 140.73 512.87 143.30 512.00C145.87 511.13 148.32 510.02 150.80 508.60C153.28 507.18 155.85 505.27 158.20 503.50C160.55 501.73 162.82 500.08 164.90 498.00C166.98 495.92 169.27 492.90 170.70 491.00C172.13 489.10 171.98 489.80 173.50 486.60C175.02 483.40 178.12 475.95 179.80 471.80C181.48 467.65 182.70 464.28 183.60 461.70C184.50 459.12 184.55 458.88 185.20 456.30C185.85 453.72 186.98 448.92 187.50 446.20C188.02 443.48 187.60 444.37 188.30 440.00C189.00 435.63 190.30 427.07 191.70 420.00C193.10 412.93 195.87 401.33 196.70 397.60" stroke="#00b0f0" stroke-width="1.8" stroke-dasharray="10 5"/>
<path d="M135.40 514.00C136.72 513.72 140.73 513.13 143.30 512.30C145.87 511.47 148.32 510.32 150.80 509.00C153.28 507.68 155.85 506.07 158.20 504.40C160.55 502.73 162.47 501.32 164.90 499.00C167.33 496.68 170.72 493.33 172.80 490.50C174.88 487.67 176.03 485.00 177.40 482.00C178.77 479.00 179.90 475.10 181.00 472.50C182.10 469.90 182.78 468.97 184.00 466.40C185.22 463.83 186.80 460.20 188.30 457.10C189.80 454.00 191.58 450.65 193.00 447.80C194.42 444.95 195.78 441.45 196.80 440.00C197.82 438.55 197.97 438.58 199.10 439.10C200.23 439.62 202.02 439.78 203.60 443.10C205.18 446.42 207.32 454.62 208.60 459.00C209.88 463.38 210.32 466.23 211.30 469.40C212.28 472.57 213.22 475.20 214.50 478.00C215.78 480.80 217.38 483.53 219.00 486.20C220.62 488.87 223.33 492.70 224.20 494.00" stroke="#548235" stroke-width="1.8" stroke-dasharray="10 4 1.5 4"/>
<path d="M135.40 514.00C136.72 513.72 140.73 513.13 143.30 512.30C145.87 511.47 148.32 510.32 150.80 509.00C153.28 507.68 155.85 506.07 158.20 504.40C160.55 502.73 162.47 501.27 164.90 499.00C167.33 496.73 170.72 493.55 172.80 490.80C174.88 488.05 175.98 485.22 177.40 482.50C178.82 479.78 179.75 476.83 181.30 474.50C182.85 472.17 185.02 470.33 186.70 468.50C188.38 466.67 189.97 464.75 191.40 463.50C192.83 462.25 194.00 461.45 195.30 461.00C196.60 460.55 197.75 460.22 199.20 460.80C200.65 461.38 202.73 463.05 204.00 464.50C205.27 465.95 205.58 467.33 206.80 469.50C208.02 471.67 209.63 474.50 211.30 477.50C212.97 480.50 214.65 483.98 216.80 487.50C218.95 491.02 222.97 496.75 224.20 498.60" stroke="#00b050" stroke-width="1.8" stroke-dasharray="4.6 3"/>
<path d="M135.40 514.10C136.72 513.82 140.73 513.23 143.30 512.40C145.87 511.57 148.32 510.42 150.80 509.10C153.28 507.78 155.85 506.17 158.20 504.50C160.55 502.83 163.10 500.68 164.90 499.10C166.70 497.52 167.68 496.43 169.00 495.00C170.32 493.57 171.40 492.67 172.80 490.50C174.20 488.33 175.98 484.85 177.40 482.00C178.82 479.15 179.75 475.87 181.30 473.40C182.85 470.93 185.02 469.20 186.70 467.20C188.38 465.20 189.97 463.08 191.40 461.40C192.83 459.72 194.10 457.83 195.30 457.10C196.50 456.37 197.13 456.30 198.60 457.00C200.07 457.70 202.58 459.60 204.10 461.30C205.62 463.00 206.20 464.57 207.70 467.20C209.20 469.83 211.28 473.93 213.10 477.10C214.92 480.27 216.75 483.47 218.60 486.20C220.45 488.93 223.27 492.28 224.20 493.50" stroke="#ffc000" stroke-width="1.8" stroke-dasharray="3.6 2"/>
<path d="M135.40 512.40C136.72 512.18 140.73 511.80 143.30 511.10C145.87 510.40 148.32 509.37 150.80 508.20C153.28 507.03 155.85 505.48 158.20 504.10C160.55 502.72 162.90 501.33 164.90 499.90C166.90 498.47 168.53 497.15 170.20 495.50C171.87 493.85 173.70 491.62 174.90 490.00C176.10 488.38 176.33 487.78 177.40 485.80C178.47 483.82 180.00 480.03 181.30 478.10C182.60 476.17 183.65 475.88 185.20 474.20C186.75 472.52 188.92 469.75 190.60 468.00C192.28 466.25 193.82 463.68 195.30 463.70C196.78 463.72 198.03 466.17 199.50 468.10C200.97 470.03 202.73 472.88 204.10 475.30C205.47 477.72 206.50 480.18 207.70 482.60C208.90 485.02 209.87 487.00 211.30 489.80C212.73 492.60 214.85 496.78 216.30 499.40C217.75 502.02 218.68 503.47 220.00 505.50C221.32 507.53 223.50 510.58 224.20 511.60" stroke="#1a1aff" stroke-width="1.7"/>
<path d="M135.80 518.60C137.05 518.25 140.95 517.12 143.30 516.50C145.65 515.88 147.68 515.72 149.90 514.90C152.12 514.08 154.38 512.98 156.60 511.60C158.82 510.22 161.27 508.13 163.20 506.60C165.13 505.07 167.00 503.60 168.20 502.40C169.40 501.20 169.38 500.73 170.40 499.40C171.42 498.07 173.00 496.40 174.30 494.40C175.60 492.40 176.90 489.73 178.20 487.40C179.50 485.07 180.80 482.60 182.10 480.40C183.40 478.20 184.58 476.15 186.00 474.20C187.42 472.25 189.05 470.52 190.60 468.70C192.15 466.88 193.87 464.28 195.30 463.30C196.73 462.32 198.08 462.60 199.20 462.80C200.32 463.00 200.73 463.30 202.00 464.50C203.27 465.70 205.25 467.75 206.80 470.00C208.35 472.25 209.63 475.00 211.30 478.00C212.97 481.00 214.65 484.37 216.80 488.00C218.95 491.63 222.97 497.83 224.20 499.80" stroke="#ff0000" stroke-width="2" stroke-dasharray="0.01 3.65" stroke-linecap="round"/>
</g>
<g fill="#000">
<circle cx="146.20" cy="507.00" r="1.95"/>
<circle cx="145.00" cy="509.10" r="1.95"/>
<circle cx="150.30" cy="508.20" r="1.95"/>
<circle cx="145.00" cy="518.40" r="1.95"/>
<circle cx="153.70" cy="519.90" r="1.95"/>
<circle cx="156.60" cy="509.50" r="1.95"/>
<circle cx="161.60" cy="509.10" r="1.95"/>
<circle cx="162.40" cy="514.50" r="1.95"/>
<circle cx="167.40" cy="507.40" r="1.95"/>
<circle cx="159.90" cy="503.70" r="1.95"/>
<circle cx="161.10" cy="502.80" r="1.95"/>
<circle cx="162.80" cy="501.60" r="1.95"/>
<circle cx="167.80" cy="494.50" r="1.95"/>
<circle cx="171.90" cy="483.30" r="1.95"/>
<circle cx="175.30" cy="490.80" r="1.95"/>
<circle cx="175.70" cy="492.00" r="1.95"/>
<circle cx="174.90" cy="495.40" r="1.95"/>
<circle cx="193.60" cy="427.20" r="1.95"/>
<circle cx="184.50" cy="450.80" r="1.95"/>
<circle cx="191.70" cy="450.50" r="1.95"/>
<circle cx="192.20" cy="453.60" r="1.95"/>
<circle cx="188.60" cy="459.10" r="1.95"/>
<circle cx="194.30" cy="458.10" r="1.95"/>
<circle cx="201.30" cy="456.70" r="1.95"/>
<circle cx="199.50" cy="461.30" r="1.95"/>
<circle cx="193.80" cy="467.60" r="1.95"/>
<circle cx="190.50" cy="471.20" r="1.95"/>
<circle cx="193.80" cy="474.30" r="1.95"/>
<circle cx="185.50" cy="472.20" r="1.95"/>
<circle cx="180.30" cy="474.00" r="1.95"/>
<circle cx="182.90" cy="475.90" r="1.95"/>
<circle cx="185.50" cy="476.90" r="1.95"/>
<circle cx="172.10" cy="482.90" r="1.95"/>
<circle cx="181.40" cy="482.60" r="1.95"/>
<circle cx="187.60" cy="488.30" r="1.95"/>
<circle cx="175.20" cy="491.40" r="1.95"/>
<circle cx="174.70" cy="495.00" r="1.95"/>
<circle cx="200.90" cy="477.10" r="1.95"/>
<circle cx="202.70" cy="480.30" r="1.95"/>
<circle cx="198.60" cy="481.70" r="1.95"/>
<circle cx="196.80" cy="483.90" r="1.95"/>
<circle cx="203.20" cy="483.00" r="1.95"/>
<circle cx="202.70" cy="486.70" r="1.95"/>
<circle cx="206.80" cy="486.70" r="1.95"/>
<circle cx="201.80" cy="490.70" r="1.95"/>
<circle cx="207.70" cy="491.20" r="1.95"/>
<circle cx="210.00" cy="489.40" r="1.95"/>
<circle cx="205.40" cy="468.50" r="1.95"/>
<circle cx="205.00" cy="470.30" r="1.95"/>
<circle cx="204.10" cy="472.60" r="1.95"/>
<circle cx="211.30" cy="475.80" r="1.95"/>
<circle cx="217.70" cy="479.40" r="1.95"/>
<circle cx="217.70" cy="481.20" r="1.95"/>
<circle cx="214.50" cy="485.80" r="1.95"/>
<circle cx="216.80" cy="492.10" r="1.95"/>
<circle cx="212.70" cy="496.60" r="1.95"/>
</g>
<g clip-path="url(#cpXe)" fill="none">
<path d="M579.10 522.40C576.92 522.37 570.28 522.40 566.00 522.20C561.72 522.00 556.75 521.70 553.40 521.20C550.05 520.70 548.15 520.40 545.90 519.20C543.65 518.00 542.27 516.43 539.90 514.00C537.53 511.57 533.07 506.17 531.70 504.60" stroke="#1f2d6e" stroke-width="1.6" stroke-dasharray="10 4 1.5 4 1.5 4"/>
<path d="M531.70 470.20C532.57 472.18 534.78 477.25 536.90 482.10C539.02 486.95 541.90 495.05 544.40 499.30C546.90 503.55 549.42 505.48 551.90 507.60C554.38 509.72 556.62 510.60 559.30 512.00C561.98 513.40 564.70 514.82 568.00 516.00C571.30 517.18 577.25 518.58 579.10 519.10" stroke="#548235" stroke-width="1.8" stroke-dasharray="10 4 1.5 4"/>
<path d="M531.70 497.80C533.07 498.83 537.03 502.00 539.90 504.00C542.77 506.00 545.42 507.83 548.90 509.80C552.38 511.77 557.28 514.52 560.80 515.80C564.32 517.08 566.95 517.00 570.00 517.50C573.05 518.00 577.58 518.58 579.10 518.80" stroke="#00b050" stroke-width="1.8" stroke-dasharray="4.6 3"/>
<path d="M531.70 494.10C533.07 495.10 537.03 497.85 539.90 500.10C542.77 502.35 545.42 505.62 548.90 507.60C552.38 509.58 557.28 510.93 560.80 512.00C564.32 513.07 566.95 513.45 570.00 514.00C573.05 514.55 577.58 515.08 579.10 515.30" stroke="#ffc000" stroke-width="1.8" stroke-dasharray="3.6 2"/>
<path d="M531.70 504.60C533.07 506.08 537.53 511.27 539.90 513.50C542.27 515.73 543.65 517.00 545.90 518.00C548.15 519.00 550.05 519.08 553.40 519.50C556.75 519.92 561.72 520.25 566.00 520.50C570.28 520.75 576.92 520.92 579.10 521.00" stroke="#1a1aff" stroke-width="1.7"/>
<path d="M531.70 500.80C533.07 501.93 537.03 505.48 539.90 507.60C542.77 509.72 545.42 511.88 548.90 513.50C552.38 515.12 557.28 516.47 560.80 517.30C564.32 518.13 566.95 518.20 570.00 518.50C573.05 518.80 577.58 519.00 579.10 519.10" stroke="#ff0000" stroke-width="2" stroke-dasharray="0.01 3.65" stroke-linecap="round"/>
</g>
<g fill="#000">
<circle cx="577.00" cy="525.00" r="1.95"/>
<circle cx="579.00" cy="525.50" r="1.95"/>
<circle cx="581.00" cy="525.00" r="1.95"/>
<circle cx="583.00" cy="525.50" r="1.95"/>
<circle cx="584.50" cy="525.80" r="1.95"/>
<circle cx="580.00" cy="524.50" r="1.95"/>
</g>
<g clip-path="url(#cpNe)" fill="none">
<path d="M155.50 704.80C156.42 704.38 158.60 703.88 161.00 702.30C163.40 700.72 167.25 697.78 169.90 695.30C172.55 692.82 174.73 690.13 176.90 687.40C179.07 684.67 181.07 681.82 182.90 678.90C184.73 675.98 186.23 672.65 187.90 669.90C189.57 667.15 191.40 663.73 192.90 662.40C194.40 661.07 195.42 660.98 196.90 661.90C198.38 662.82 200.28 665.80 201.80 667.90C203.32 670.00 204.67 672.32 206.00 674.50C207.33 676.68 208.80 679.17 209.80 681.00C210.80 682.83 210.73 683.18 212.00 685.50C213.27 687.82 215.38 691.42 217.40 694.90C219.42 698.38 222.08 703.48 224.10 706.40C226.12 709.32 227.93 710.78 229.50 712.40C231.07 714.02 231.98 715.37 233.50 716.10C235.02 716.83 237.75 716.68 238.60 716.80" stroke="#1f2d6e" stroke-width="1.6" stroke-dasharray="10 4 1.5 4 1.5 4"/>
<path d="M155.50 704.60C156.42 704.17 158.92 703.68 161.00 702.00C163.08 700.32 166.02 696.52 168.00 694.50C169.98 692.48 170.92 692.83 172.90 689.90C174.88 686.97 177.98 681.40 179.90 676.90C181.82 672.40 182.57 669.05 184.40 662.90C186.23 656.75 188.68 649.82 190.90 640.00C193.12 630.18 196.57 610.00 197.70 604.00" stroke="#00b0f0" stroke-width="1.8" stroke-dasharray="10 5"/>
<path d="M155.50 705.00C156.42 704.58 158.60 704.33 161.00 702.50C163.40 700.67 167.25 697.25 169.90 694.00C172.55 690.75 174.73 686.93 176.90 683.00C179.07 679.07 180.90 674.42 182.90 670.40C184.90 666.38 187.23 662.47 188.90 658.90C190.57 655.33 191.48 652.07 192.90 649.00C194.32 645.93 195.98 642.67 197.40 640.50C198.82 638.33 200.22 636.08 201.40 636.00C202.58 635.92 203.32 637.92 204.50 640.00C205.68 642.08 206.40 643.53 208.50 648.50C210.60 653.47 214.88 664.53 217.10 669.80C219.32 675.07 220.27 676.70 221.80 680.10C223.33 683.50 225.55 688.52 226.30 690.20" stroke="#548235" stroke-width="1.8" stroke-dasharray="10 4 1.5 4"/>
<path d="M155.50 705.10C156.42 704.68 158.60 704.42 161.00 702.60C163.40 700.78 167.25 697.27 169.90 694.20C172.55 691.13 174.73 687.32 176.90 684.20C179.07 681.08 181.07 678.28 182.90 675.50C184.73 672.72 186.30 669.92 187.90 667.50C189.50 665.08 191.00 662.43 192.50 661.00C194.00 659.57 195.32 658.82 196.90 658.90C198.48 658.98 200.02 659.57 202.00 661.50C203.98 663.43 207.13 667.85 208.80 670.50C210.47 673.15 210.35 674.57 212.00 677.40C213.65 680.23 216.45 684.25 218.70 687.50C220.95 690.75 223.25 694.43 225.50 696.90C227.75 699.37 230.02 700.58 232.20 702.30C234.38 704.02 237.53 706.38 238.60 707.20" stroke="#00b050" stroke-width="1.8" stroke-dasharray="4.6 3"/>
<path d="M155.50 705.00C156.42 704.58 158.60 704.33 161.00 702.50C163.40 700.67 167.25 697.10 169.90 694.00C172.55 690.90 174.73 687.08 176.90 683.90C179.07 680.72 181.07 677.73 182.90 674.90C184.73 672.07 186.07 669.65 187.90 666.90C189.73 664.15 192.07 660.22 193.90 658.40C195.73 656.58 197.25 655.92 198.90 656.00C200.55 656.08 202.15 657.20 203.80 658.90C205.45 660.60 207.32 663.68 208.80 666.20C210.28 668.72 210.82 670.78 212.70 674.00C214.58 677.22 217.52 682.13 220.10 685.50C222.68 688.87 225.12 691.40 228.20 694.20C231.28 697.00 236.87 700.95 238.60 702.30" stroke="#ffc000" stroke-width="1.8" stroke-dasharray="3.6 2"/>
<path d="M155.50 704.80C156.42 704.38 158.60 703.88 161.00 702.30C163.40 700.72 167.25 697.78 169.90 695.30C172.55 692.82 174.73 690.13 176.90 687.40C179.07 684.67 181.07 681.82 182.90 678.90C184.73 675.98 186.23 672.65 187.90 669.90C189.57 667.15 191.40 663.73 192.90 662.40C194.40 661.07 195.42 660.98 196.90 661.90C198.38 662.82 200.28 665.80 201.80 667.90C203.32 670.00 204.67 672.32 206.00 674.50C207.33 676.68 208.80 679.17 209.80 681.00C210.80 682.83 210.73 683.18 212.00 685.50C213.27 687.82 215.38 691.42 217.40 694.90C219.42 698.38 222.08 703.48 224.10 706.40C226.12 709.32 227.93 710.78 229.50 712.40C231.07 714.02 231.98 715.37 233.50 716.10C235.02 716.83 237.75 716.68 238.60 716.80" stroke="#1a1aff" stroke-width="1.7"/>
<path d="M155.50 710.50C155.92 710.30 156.42 710.33 158.00 709.30C159.58 708.27 162.35 706.88 165.00 704.30C167.65 701.72 171.08 697.53 173.90 693.80C176.72 690.07 179.23 685.97 181.90 681.90C184.57 677.83 187.57 672.65 189.90 669.40C192.23 666.15 194.08 663.48 195.90 662.40C197.72 661.32 198.98 661.88 200.80 662.90C202.62 663.92 204.93 666.08 206.80 668.50C208.67 670.92 210.02 674.23 212.00 677.40C213.98 680.57 216.45 684.25 218.70 687.50C220.95 690.75 223.25 694.40 225.50 696.90C227.75 699.40 230.02 700.70 232.20 702.50C234.38 704.30 237.53 706.83 238.60 707.70" stroke="#ff0000" stroke-width="2" stroke-dasharray="0.01 3.65" stroke-linecap="round"/>
</g>
<g fill="#000">
<circle cx="176.40" cy="702.30" r="1.95"/>
<circle cx="176.40" cy="691.80" r="1.95"/>
<circle cx="176.40" cy="689.40" r="1.95"/>
<circle cx="181.40" cy="690.30" r="1.95"/>
<circle cx="182.10" cy="685.90" r="1.95"/>
<circle cx="185.40" cy="687.40" r="1.95"/>
<circle cx="187.70" cy="694.30" r="1.95"/>
<circle cx="193.40" cy="666.40" r="1.95"/>
<circle cx="194.90" cy="674.40" r="1.95"/>
<circle cx="197.40" cy="673.40" r="1.95"/>
<circle cx="197.70" cy="677.90" r="1.95"/>
<circle cx="201.30" cy="676.40" r="1.95"/>
<circle cx="202.80" cy="656.50" r="1.95"/>
<circle cx="206.30" cy="660.90" r="1.95"/>
<circle cx="205.80" cy="675.40" r="1.95"/>
<circle cx="211.40" cy="679.80" r="1.95"/>
<circle cx="207.80" cy="684.10" r="1.95"/>
<circle cx="218.50" cy="697.20" r="1.95"/>
<circle cx="223.10" cy="696.90" r="1.95"/>
<circle cx="220.20" cy="703.30" r="1.95"/>
</g>
<text x="247.30" y="24.50" class="es" font-weight="bold" textLength="4.60" lengthAdjust="spacingAndGlyphs">1</text>
<text x="252.20" y="30.20" class="el" textLength="15.40" lengthAdjust="spacingAndGlyphs">H</text>
<text x="545.60" y="24.50" class="es" font-weight="bold" textLength="11.10" lengthAdjust="spacingAndGlyphs">40</text>
<text x="556.70" y="30.20" class="el" textLength="18.50" lengthAdjust="spacingAndGlyphs">Ar</text>
<text x="238.00" y="219.90" class="es" font-weight="bold" textLength="5.60" lengthAdjust="spacingAndGlyphs">4</text>
<text x="243.70" y="225.60" class="el" textLength="23.70" lengthAdjust="spacingAndGlyphs">He</text>
<text x="544.70" y="219.60" class="es" font-weight="bold" textLength="10.50" lengthAdjust="spacingAndGlyphs">56</text>
<text x="555.70" y="225.30" class="el" textLength="19.60" lengthAdjust="spacingAndGlyphs">Fe</text>
<text x="243.60" y="416.00" class="es" font-weight="bold" textLength="9.90" lengthAdjust="spacingAndGlyphs">12</text>
<text x="253.20" y="421.70" class="el" textLength="13.30" lengthAdjust="spacingAndGlyphs">C</text>
<text x="540.40" y="415.50" class="es" font-weight="bold" textLength="15.20" lengthAdjust="spacingAndGlyphs">132</text>
<text x="555.30" y="421.20" class="el" textLength="21.50" lengthAdjust="spacingAndGlyphs">Xe</text>
<text x="235.70" y="611.50" class="es" font-weight="bold" textLength="11.00" lengthAdjust="spacingAndGlyphs">20</text>
<text x="246.50" y="617.20" class="el" textLength="23.80" lengthAdjust="spacingAndGlyphs">Ne</text>
<text x="335" y="608.2" class="lt" textLength="246" lengthAdjust="spacingAndGlyphs">Chinese Hamster lung fibroblasts (V79 cell line)</text>
<path d="M334.9 622.10H353.3" fill="none" stroke="#1f2d6e" stroke-width="2" stroke-dasharray="10.2 2.5 1.5 2.5 1.5 10"/>
<text x="368" y="626.70" class="lg" textLength="101.3" lengthAdjust="spacingAndGlyphs">BWF – pre-proc. avg.</text>
<path d="M334.9 640.70H353.3" fill="none" stroke="#1a1aff" stroke-width="2"/>
<text x="368" y="645.30" class="lg" textLength="106.5" lengthAdjust="spacingAndGlyphs">BWF – post-proc. avg.</text>
<path d="M334.9 659.20H353.3" fill="none" stroke="#00b0f0" stroke-width="2" stroke-dasharray="10.3 4.4"/>
<text x="368" y="663.80" class="lg" textLength="67.2" lengthAdjust="spacingAndGlyphs">original MKM</text>
<path d="M334.9 677.90H353.3" fill="none" stroke="#548235" stroke-width="2" stroke-dasharray="10.3 4.2 1.5 10"/>
<text x="368" y="682.50" class="lg" textLength="168.8" lengthAdjust="spacingAndGlyphs">non-Poisson MKM – pre-proc. avg.</text>
<path d="M334.9 696.60H353.3" fill="none" stroke="#00b050" stroke-width="2" stroke-dasharray="4.2 2.6"/>
<text x="368" y="701.20" class="lg" textLength="172.9" lengthAdjust="spacingAndGlyphs">non-Poisson MKM – post-proc. avg.</text>
<path d="M334.9 715.20H353.3" fill="none" stroke="#ffc000" stroke-width="2" stroke-dasharray="3 1.1"/>
<text x="368" y="719.80" class="lg" textLength="74.4" lengthAdjust="spacingAndGlyphs">modified MKM</text>
<path d="M334.9 733.70H353.3" fill="none" stroke="#ff0000" stroke-width="1.6" stroke-dasharray="1.4 1.25"/>
<text x="368" y="738.30" class="lg" textLength="131.5" lengthAdjust="spacingAndGlyphs">modified MKM with <tspan font-size="12.5px">α</tspan><tspan font-size="7.5px" dy="2.2">0</tspan><tspan dy="-2.2"> = 0</tspan></text>
<circle cx="345.2" cy="753.50" r="1.9" fill="#000"/>
<text x="368" y="758.10" class="lg" font-style="italic" textLength="29" lengthAdjust="spacingAndGlyphs">in vitro</text>
</svg>
</body></html>
